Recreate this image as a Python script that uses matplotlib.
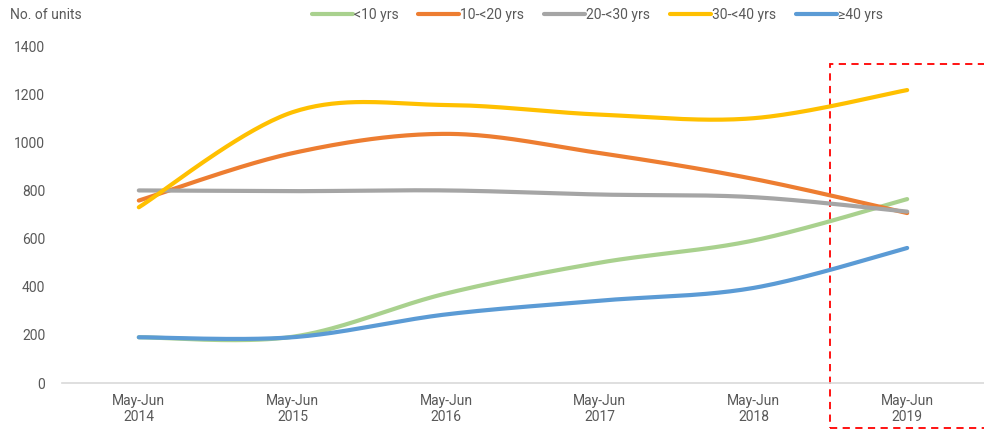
import numpy as np
import matplotlib.pyplot as plt
from matplotlib.patches import Rectangle

plt.rcParams['font.family'] = ['Roboto', 'DejaVu Sans']

# chart data
periods = ['May-Jun\n2014', 'May-Jun\n2015', 'May-Jun\n2016',
           'May-Jun\n2017', 'May-Jun\n2018', 'May-Jun\n2019']
lt10 = [190, 192, 372, 500, 592, 764]
y10_20 = [758, 955, 1035, 955, 848, 706]
y20_30 = [800, 797, 800, 783, 772, 712]
y30_40 = [730, 1125, 1155, 1115, 1100, 1217]
ge40 = [190, 190, 285, 342, 395, 561]

series = [('<10 yrs', lt10, '#A9D18E'),
          ('10-<20 yrs', y10_20, '#ED7D31'),
          ('20-<30 yrs', y20_30, '#A5A5A5'),
          ('30-<40 yrs', y30_40, '#FFC000'),
          ('\u226540 yrs', ge40, '#5B9BD5')]


def smooth(x, y, n=40):
    # Catmull-Rom style bezier smoothing like Excel's smoothed line
    x = np.asarray(x, float)
    y = np.asarray(y, float)
    px = np.concatenate([[x[0]], x, [x[-1]]])
    py = np.concatenate([[y[0]], y, [y[-1]]])
    xs, ys = [], []
    t = np.linspace(0, 1, n)
    for i in range(1, len(x)):
        p0 = np.array([px[i], py[i]])
        p3 = np.array([px[i + 1], py[i + 1]])
        p1 = p0 + (np.array([px[i + 1], py[i + 1]]) - np.array([px[i - 1], py[i - 1]])) / 6
        p2 = p3 - (np.array([px[i + 2], py[i + 2]]) - np.array([px[i], py[i]])) / 6
        b = ((1 - t) ** 3)[:, None] * p0 + (3 * (1 - t) ** 2 * t)[:, None] * p1 \
            + (3 * (1 - t) * t ** 2)[:, None] * p2 + (t ** 3)[:, None] * p3
        xs.append(b[:, 0])
        ys.append(b[:, 1])
    return np.concatenate(xs), np.concatenate(ys)


fig = plt.figure(figsize=(9.84, 4.3), dpi=100)
ax = fig.add_axes([0.063, 0.1093, 0.937, 0.7837])

x = np.arange(len(periods))
for name, vals, color in series:
    sx, sy = smooth(x, vals)
    ax.plot(sx, sy, color=color, lw=3, label=name, solid_capstyle='round')

ax.set_xlim(-0.5, 5.5)
ax.set_ylim(0, 1400)
ax.set_yticks(range(0, 1401, 200))
ax.set_xticks(x)
ax.set_xticklabels(periods)
ax.tick_params(length=0, labelsize=10, colors='#595959')
ax.tick_params(axis='x', pad=8)
ax.tick_params(axis='y', pad=12)
for side in ['top', 'right', 'left']:
    ax.spines[side].set_visible(False)
ax.spines['bottom'].set_color('#d9d9d9')
ax.spines['bottom'].set_linewidth(1.2)

# highlight box around latest period
ax.add_patch(Rectangle((4.5, -187), 1.1, 1512, fill=False, edgecolor='#FF0000',
                       lw=1.3, ls=(0, (4, 3)), clip_on=False))

fig.text(0.01, 0.965, 'No. of units', fontsize=10, color='#595959', va='center')
fig.legend(loc='center', bbox_to_anchor=(0.607, 0.965), ncol=5, frameon=False,
           fontsize=10, handlelength=2.95, handletextpad=0.1, columnspacing=1.4,
           labelcolor='#595959')

plt.savefig('out.png')
